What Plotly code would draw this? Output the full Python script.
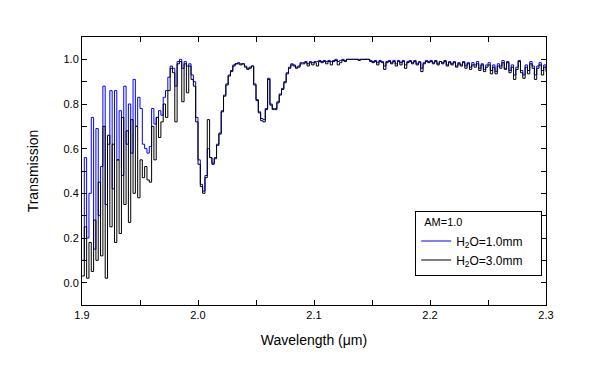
import plotly.graph_objects as go

# Sampling grid of wavelengths (um)
wavelength = [round(1.9 + 0.002 * i, 3) for i in range(201)]

# Transmission, H2O = 1.0 mm (blue)
trans_1mm = [
    0.10, 0.56, 0.20, 0.40, 0.74, 0.15, 0.69, 0.30, 0.52, 0.88,
    0.35, 0.62, 0.86, 0.42, 0.86, 0.55, 0.77, 0.48, 0.88, 0.62,
    0.80, 0.58, 0.91, 0.70, 0.83, 0.78, 0.62, 0.60, 0.58, 0.61,
    0.78, 0.71, 0.74, 0.77, 0.75, 0.83, 0.86, 0.92, 0.97, 0.96,
    0.88, 0.99, 1.00, 0.96, 0.99, 0.97, 0.98, 0.93, 0.90, 0.74,
    0.55, 0.44, 0.41, 0.48, 0.60, 0.56, 0.535, 0.56, 0.62, 0.67,
    0.77, 0.84, 0.89, 0.93, 0.95, 0.975, 0.98, 0.985, 0.98, 0.98,
    0.97, 0.96, 0.965, 0.97, 0.89, 0.82, 0.765, 0.735, 0.73, 0.78,
    0.915, 0.80, 0.78, 0.78, 0.81, 0.845, 0.87, 0.90, 0.94, 0.965,
    0.98, 0.975, 0.965, 0.97, 0.985, 0.985, 0.99, 0.98, 0.99, 0.985,
    0.99, 0.99, 0.995, 0.99, 0.995, 0.99, 0.995, 0.99, 0.995, 1.0,
    0.99, 0.995, 1.0, 0.995, 1.0, 1.0, 1.0, 1.0, 1.0, 1.0,
    1.0, 1.0, 1.0, 1.0, 0.995, 0.99, 0.995, 0.985, 0.995, 0.99,
    0.97, 0.99, 0.995, 0.985, 0.995, 0.98, 0.995, 0.985, 0.995, 0.975,
    0.99, 0.995, 0.985, 0.995, 0.98, 0.99, 0.96, 0.985, 0.995, 0.99,
    0.995, 0.985, 0.995, 0.98, 0.99, 0.985, 0.995, 0.975, 0.99, 0.98,
    0.99, 0.97, 0.985, 0.975, 0.99, 0.97, 0.985, 0.965, 0.985, 0.975,
    0.99, 0.96, 0.98, 0.955, 0.975, 0.985, 0.95, 0.975, 0.945, 0.98,
    0.97, 0.995, 0.96, 0.99, 0.95, 0.975, 0.93, 0.965, 0.995, 0.95,
    0.93, 0.975, 0.95, 0.99, 0.97, 0.93, 0.97, 0.985, 0.95, 0.975,
    0.96,
]

# Transmission, H2O = 3.0 mm (black)
trans_3mm = [
    0.03, 0.25, 0.02, 0.18, 0.05, 0.28, 0.10, 0.45, 0.12, 0.70,
    0.02, 0.66, 0.25, 0.62, 0.18, 0.55, 0.22, 0.74, 0.35, 0.68,
    0.27, 0.73, 0.40, 0.70, 0.38, 0.55, 0.47, 0.52, 0.46, 0.45,
    0.70, 0.55, 0.74, 0.65, 0.72, 0.80, 0.74, 0.86, 0.96, 0.94,
    0.72, 0.98, 0.99, 0.81, 0.98, 0.85, 0.97, 0.91, 0.88, 0.72,
    0.53, 0.43, 0.40, 0.47, 0.73, 0.56, 0.53, 0.555, 0.615, 0.665,
    0.765, 0.835, 0.885, 0.925, 0.945, 0.97, 0.98, 0.98, 0.975, 0.98,
    0.965, 0.955, 0.96, 0.97, 0.885, 0.815, 0.76, 0.725, 0.72, 0.775,
    0.91, 0.795, 0.775, 0.775, 0.805, 0.84, 0.865, 0.895, 0.935, 0.96,
    0.975, 0.97, 0.96, 0.965, 0.98, 0.98, 0.985, 0.97, 0.985, 0.975,
    0.985, 0.97, 0.99, 0.985, 0.99, 0.98, 0.99, 0.975, 0.99, 0.995,
    0.975, 0.985, 0.995, 0.99, 1.0, 1.0, 1.0, 1.0, 1.0, 0.995,
    1.0, 1.0, 1.0, 1.0, 0.99, 0.985, 0.99, 0.975, 0.99, 0.985,
    0.955, 0.985, 0.99, 0.98, 0.99, 0.97, 0.99, 0.975, 0.99, 0.96,
    0.985, 0.99, 0.98, 0.99, 0.975, 0.985, 0.945, 0.98, 0.99, 0.985,
    0.99, 0.98, 0.99, 0.975, 0.99, 0.98, 0.99, 0.97, 0.985, 0.975,
    0.985, 0.965, 0.98, 0.97, 0.985, 0.96, 0.98, 0.955, 0.975, 0.965,
    0.98, 0.95, 0.975, 0.945, 0.965, 0.975, 0.935, 0.965, 0.935, 0.97,
    0.96, 0.985, 0.955, 0.985, 0.94, 0.965, 0.91, 0.955, 0.99, 0.94,
    0.915, 0.965, 0.935, 0.98, 0.96, 0.91, 0.96, 0.975, 0.93, 0.965,
    0.945,
]

series_names = ["H<sub>2</sub>O=1.0mm", "H<sub>2</sub>O=3.0mm"]
series_colors = ["#0000ff", "#000000"]
legend_title = "AM=1.0"

font_family = "Liberation Sans, Arial, sans-serif"
pad = "\u00a0" * 4

fig = go.Figure()
for name, vals, col in zip(series_names, [trans_1mm, trans_3mm], series_colors):
    fig.add_trace(go.Scatter(
        x=wavelength, y=vals, name=name + pad, mode="lines",
        line=dict(color=col, width=1, shape="hv"),
    ))

axis_common = dict(
    showgrid=False, zeroline=False,
    showline=True, linecolor="black", linewidth=1, mirror="allticks",
    ticks="inside", ticklen=5, tickcolor="black", tickwidth=1,
    tickfont=dict(family=font_family, size=11, color="black"),
)

fig.update_xaxes(
    range=[1.9, 2.3], tick0=1.9, dtick=0.1, tickformat=".1f",
    minor=dict(dtick=0.05, ticks="inside", ticklen=5, tickcolor="black"),
    title=dict(text="Wavelength (\u03bcm)", font=dict(family=font_family, size=14, color="black"), standoff=14),
    **axis_common,
)
fig.update_yaxes(
    range=[-0.1, 1.1], tick0=0, dtick=0.2, tickformat=".1f",
    minor=dict(dtick=0.1, ticks="inside", ticklen=5, tickcolor="black"),
    title=dict(text="Transmission", font=dict(family=font_family, size=14, color="black"), standoff=21),
    **axis_common,
)

# The page body adds an 8 px margin, so the figure is sized to fit inside it.
fig.update_layout(
    width=574, height=365,
    margin=dict(l=74, r=36, t=29, b=68),
    paper_bgcolor="white", plot_bgcolor="white",
    font=dict(family=font_family, size=11, color="black"),
    legend=dict(
        title=dict(text="\u00a0\u00a0" + legend_title, font=dict(family=font_family, size=11, color="black")),
        x=0.718, y=0.35, xanchor="left", yanchor="top",
        bgcolor="white", bordercolor="black", borderwidth=1,
        font=dict(family=font_family, size=12, color="black"),
        tracegroupgap=2,
    ),
    showlegend=True,
)

fig.write_html("out.html")
